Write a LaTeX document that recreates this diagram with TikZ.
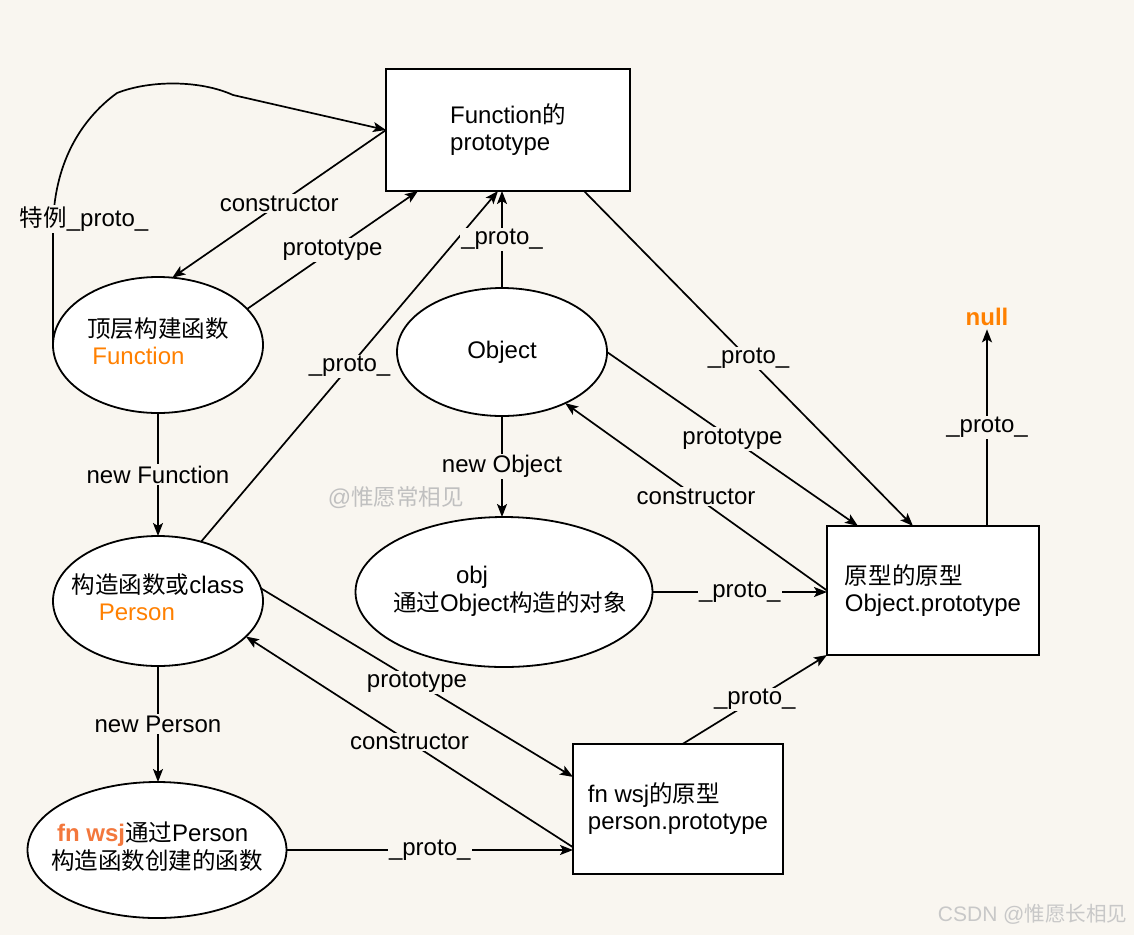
\documentclass[tikz,border=0pt]{standalone}
\usepackage{fontspec}
\setmainfont{Liberation Sans}
\newfontfamily\cjk[Scale=0.98]{Noto Sans CJK SC}
\usetikzlibrary{arrows.meta,calc,shapes.geometric}
\definecolor{bg}{RGB}{249,246,240}
\definecolor{orng}{RGB}{255,128,0}
\definecolor{orngb}{RGB}{243,119,60}
\definecolor{wmgray}{RGB}{192,192,192}
\definecolor{wmlight}{RGB}{200,200,200}
\newcommand\zh[1]{{\cjk #1}}
\newcommand\ctext[2][0pt]{\makebox[0pt]{\hspace*{#1}\begin{tabular}{@{}l@{}}#2\end{tabular}}}
\begin{document}
\begin{tikzpicture}[x=1pt,y=-1pt,
  every node/.style={font=\fontsize{24}{27}\selectfont},
  ell/.style={draw,line width=1.8pt,fill=white,ellipse,inner sep=0pt,outer sep=0pt},
  rbox/.style={draw,line width=1.8pt,fill=white,rectangle,inner sep=0pt,outer sep=0pt,align=left},
  arr/.style={line width=1.7pt,-{Stealth[length=13pt,width=10pt,inset=3pt]}},
  labtxt/.style={fill=bg,inner sep=1.5pt},
  lab/.style={labtxt,midway}]
\fill[bg] (0,0) rectangle (1134,935);
\useasboundingbox (0,0) rectangle (1134,935);

% nodes
\node[rbox,minimum width=244pt,minimum height=122pt] (fp) at (508,130) {Function\zh{的}\\prototype};
\node[ell,minimum width=210pt,minimum height=136pt] (fnE) at (158,345) {\ctext{\zh{顶层构建函数}\\\hspace*{5pt}\textcolor{orng}{Function}}};
\node[ell,minimum width=210pt,minimum height=128pt] (objE) at (502,352) {Object};
\node[ell,minimum width=210pt,minimum height=130pt] (perE) at (158,601) {\ctext{\zh{构造函数或}class\\\hspace*{27pt}\textcolor{orng}{Person}}};
\node[ell,minimum width=297pt,minimum height=150pt] (objI) at (504,592) {\ctext[12pt]{\hspace*{63pt}obj\\\zh{通过}Object\zh{构造的对象}}};
\node[ell,minimum width=259pt,minimum height=136pt] (fnw) at (157,850) {\ctext{\hspace*{6pt}\textcolor{orngb}{\bfseries fn wsj}\zh{通过}Person\\\zh{构造函数创建的函数}}};
\node[rbox,minimum width=212pt,minimum height=129pt] (op) at (933,590.5) {\zh{原型的原型}\\Object.prototype};
\node[rbox,minimum width=210pt,minimum height=130pt] (pp) at (678,809) {fn wsj\zh{的原型}\\person.prototype};
\node[text=orng,font=\fontsize{24}{27}\selectfont\bfseries] (null) at (987,317) {null};

% watermarks
\node[text=wmgray,font=\fontsize{23}{27}\selectfont] (wm1) at (396,498) {@\zh{惟愿常相见}};
\node[text=wmlight,anchor=east,font=\fontsize{21}{25}\selectfont] (wm2) at (1131,914) {CSDN @\zh{惟愿长相见}};

% special curve
\draw[arr] (fnE.west) -- ++(0,-115) .. controls (53,165) and (80,120) .. (117,93)
  .. controls (150,80) and (200,80) .. (233,95) -- (fp.west);
\node[labtxt] (sp) at (84,219) {\zh{特例}\_proto\_};

% connectors
\draw[arr] (fp.west) -- node[lab] (l1) {constructor} (fnE.78);
\draw[arr] (fnE.22) -- node[lab] (l2) {prototype} ($(fp.south west)+(32,0)$);
\draw[arr] (perE.54) -- node[lab] (l3) {\_proto\_} ($(fp.south west)+(112,0)$);
\draw[arr] (objE.north) -- node[lab] (l4) {\_proto\_} (objE.north |- fp.south);
\draw[arr] ($(fp.south east)+(-46,0)$) -- node[lab] (l5) {\_proto\_} ($(op.north west)+(86,0)$);
\draw[arr] (objE.east) -- node[lab] (l6) {prototype} ($(op.north west)+(31,0)$);
\draw[arr] (op.west) -- node[lab] (l7) {constructor} (objE.321);
\draw[arr] (objI.east) -- node[lab] (l8) {\_proto\_} (objI.east -| op.west);
\draw[arr] (objE.south) -- node[lab] (l9) {new Object} (objE.south |- objI.north);
\draw[arr] (fnE.south) -- node[lab] (l10) {new Function} (perE.north);
\draw[arr] (perE.7) -- node[lab] (l11) {prototype} (pp.163);
\draw[arr] (pp.200) -- node[lab] (l12) {constructor} (perE.338);
\draw[arr] (perE.south) -- node[lab] (l13) {new Person} (perE.south |- fnw.north);
\draw[arr] (fnw.east) -- node[lab] (l14) {\_proto\_} (fnw.east -| pp.west);
\draw[arr] (pp.86) -- node[lab] (l15) {\_proto\_} (op.south west);
\draw[arr] (null.south |- op.north) -- node[lab] (l16) {\_proto\_} (null.south);
\end{tikzpicture}
\end{document}
